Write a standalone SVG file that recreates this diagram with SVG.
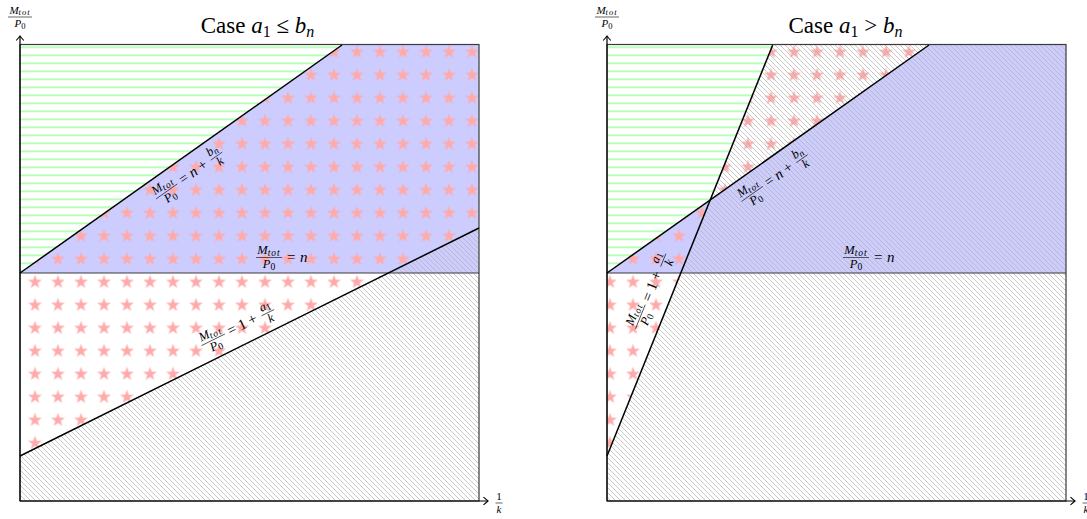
<svg xmlns="http://www.w3.org/2000/svg" width="1087" height="519" viewBox="0 0 1087 519">
<style>
.m{font-family:"Liberation Serif",serif;font-style:italic;font-size:12.5px;fill:#000}
.s{font-size:9.5px;letter-spacing:1px}
.s0{font-size:9.5px;font-style:normal}
.r{font-family:"Liberation Serif",serif;font-size:15px;fill:#000}
.ri{font-family:"Liberation Serif",serif;font-size:15px;font-style:italic;fill:#000}
.bar{stroke:#000;stroke-width:0.6}
.t{font-family:"Liberation Serif",serif;font-size:23px;fill:#000}
.it{font-style:italic}
.ts{font-size:16px}
.ln{stroke:#000;stroke-width:1.5;fill:none}
.nl{stroke:#3a3a3a;stroke-width:1;fill:none}
.box{stroke:#3a3a3a;stroke-width:1.2;fill:none}
.ax{stroke:#000;stroke-width:1.2;fill:none}
</style>
<defs>
<pattern id="grn" patternUnits="userSpaceOnUse" x="0" y="43.3" width="10" height="8">
<line x1="0" y1="4" x2="10" y2="4" stroke="#80ff80" stroke-width="1.1"/>
</pattern>
<pattern id="hatch" patternUnits="userSpaceOnUse" x="0" y="0" width="5" height="5">
<path d="M-1,-1 L6,6 M-1,4 L1,6 M4,-1 L6,1" stroke="#b0b0b0" stroke-width="0.7"/>
</pattern>
<pattern id="stars" patternUnits="userSpaceOnUse" x="23.5" y="40.5" width="23" height="23">
<path transform="translate(11.5,11.5) scale(1.12)" d="M0,-6.5 L1.53,-2.1 L6.18,-2.01 L2.47,0.8 L3.82,5.26 L0,2.6 L-3.82,5.26 L-2.47,0.8 L-6.18,-2.01 L-1.53,-2.1 Z" fill="#ffaaaa"/>
</pattern>
<marker id="arr" markerUnits="userSpaceOnUse" markerWidth="12" markerHeight="12" viewBox="-6 -6 12 12" refX="0" refY="0" orient="auto">
<path d="M-4.5,-3.8 Q-1.2,-0.9 0,0 Q-1.2,0.9 -4.5,3.8" stroke="#000" stroke-width="1.1" fill="none"/>
</marker>
</defs>
<rect width="1087" height="519" fill="#fff"/>

<g id="left-plot">
<g id="left-regions">
<polygon points="20,273 342,45 20,45" fill="url(#grn)"/>
<polygon points="20,273 342,45 479,45 479,273" fill="#ccccff"/>
<polygon points="20,273 342,45 479,45 479,228 20,456" fill="url(#stars)"/>
<polygon points="20,456 479,228 479,501 20,501" fill="url(#hatch)"/>
</g>
<g id="left-connectors">
<line class="nl" x1="20" y1="273" x2="479" y2="273"/>
<rect class="box" x="20" y="44.5" width="459" height="456.5"/>
<line class="ln" x1="20" y1="273" x2="342" y2="45"/>
<line class="ln" x1="20" y1="456" x2="479" y2="228"/>
<line class="ax" x1="20" y1="501" x2="20" y2="36" marker-end="url(#arr)"/>
<line class="ax" x1="20" y1="501" x2="488" y2="501" marker-end="url(#arr)"/>
</g>
<g id="left-title">
<text class="t" x="257.5" y="33" text-anchor="middle">Case <tspan class="it">a</tspan><tspan class="ts" dy="4">1</tspan><tspan dy="-4"> ≤ </tspan><tspan class="it">b</tspan><tspan class="ts it" dy="4">n</tspan></text>
</g>
<g id="left-yaxis-label">
<text class="m" x="20" y="13.5" text-anchor="middle" style="font-size:11px">M<tspan class="s" dy="1.8" style="font-size:8.5px">tot</tspan></text>
<line class="bar" x1="8" y1="17" x2="32" y2="17"/>
<text class="m" x="20" y="26.6" text-anchor="middle" style="font-size:11px">P<tspan class="s0" dy="2" style="font-size:8.5px">0</tspan></text>
</g>
<g id="left-xaxis-label">
<text class="m" x="499" y="500" text-anchor="middle" style="font-style:normal;font-size:11px">1</text>
<line class="bar" x1="495.5" y1="503" x2="502.5" y2="503"/>
<text class="m" x="499" y="513" text-anchor="middle" style="font-size:11px">k</text>
</g>
<g id="left-label-bn" transform="translate(192,173.5) rotate(-35.3)">
<text class="m" x="-31" y="-3.5" text-anchor="middle">M<tspan class="s" dy="1.8">tot</tspan></text>
<line class="bar" x1="-44" y1="0" x2="-18" y2="0"/>
<text class="m" x="-31" y="10.2" text-anchor="middle">P<tspan class="s0" dy="2">0</tspan></text>
<text class="r" x="-14" y="4">=</text>
<text class="ri" x="-2" y="4">n</text>
<text class="r" x="9" y="4">+</text>
<text class="m" x="30" y="-3.5" text-anchor="middle">b<tspan class="s" dy="1.8">n</tspan></text>
<line class="bar" x1="23" y1="0" x2="37" y2="0"/>
<text class="m" x="30" y="10.2" text-anchor="middle">k</text>
</g>
<g id="left-label-n">
<text class="m" x="269" y="254" text-anchor="middle">M<tspan class="s" dy="1.8">tot</tspan></text>
<line class="bar" x1="256" y1="257.5" x2="282" y2="257.5"/>
<text class="m" x="269" y="267.7" text-anchor="middle">P<tspan class="s0" dy="2">0</tspan></text>
<text class="r" x="287" y="261.5">=</text>
<text class="ri" x="300" y="261.5">n</text>
</g>
<g id="left-label-a1" transform="translate(241,326) rotate(-26.4)">
<text class="m" x="-31" y="-3.5" text-anchor="middle">M<tspan class="s" dy="1.8">tot</tspan></text>
<line class="bar" x1="-44" y1="0" x2="-18" y2="0"/>
<text class="m" x="-31" y="10.2" text-anchor="middle">P<tspan class="s0" dy="2">0</tspan></text>
<text class="r" x="-14" y="4">=</text>
<text class="r" x="-2" y="4">1</text>
<text class="r" x="9" y="4">+</text>
<text class="m" x="30" y="-3.5" text-anchor="middle">a<tspan class="s0" dy="1.8">1</tspan></text>
<line class="bar" x1="23" y1="0" x2="37" y2="0"/>
<text class="m" x="30" y="10.2" text-anchor="middle">k</text>
</g>
</g>

<g id="right-plot">
<g id="right-regions">
<polygon points="607,273 710.3,199.9 772.7,45 607,45" fill="url(#grn)"/>
<polygon points="607,273 929,45 1066,45 1066,273" fill="#ccccff"/>
<polygon points="607,273 710.3,199.9 607,456" fill="url(#stars)"/>
<polygon points="710.3,199.9 772.7,45 929,45" fill="url(#stars)"/>
<polygon points="607,456 772.7,45 1066,45 1066,501 607,501" fill="url(#hatch)"/>
</g>
<g id="right-connectors">
<line class="nl" x1="607" y1="273" x2="1066" y2="273"/>
<rect class="box" x="607" y="44.5" width="459" height="456.5"/>
<line class="ln" x1="607" y1="273" x2="929" y2="45"/>
<line class="ln" x1="607" y1="456" x2="772.7" y2="45"/>
<line class="ax" x1="607" y1="501" x2="607" y2="36" marker-end="url(#arr)"/>
<line class="ax" x1="607" y1="501" x2="1075" y2="501" marker-end="url(#arr)"/>
</g>
<g id="right-title">
<text class="t" x="845.5" y="33" text-anchor="middle">Case <tspan class="it">a</tspan><tspan class="ts" dy="4">1</tspan><tspan dy="-4"> &gt; </tspan><tspan class="it">b</tspan><tspan class="ts it" dy="4">n</tspan></text>
</g>
<g id="right-yaxis-label">
<text class="m" x="607" y="13.5" text-anchor="middle" style="font-size:11px">M<tspan class="s" dy="1.8" style="font-size:8.5px">tot</tspan></text>
<line class="bar" x1="595" y1="17" x2="619" y2="17"/>
<text class="m" x="607" y="26.6" text-anchor="middle" style="font-size:11px">P<tspan class="s0" dy="2" style="font-size:8.5px">0</tspan></text>
</g>
<g id="right-xaxis-label">
<text class="m" x="1086" y="500" text-anchor="middle" style="font-style:normal;font-size:11px">1</text>
<line class="bar" x1="1082.5" y1="503" x2="1089.5" y2="503"/>
<text class="m" x="1086" y="513" text-anchor="middle" style="font-size:11px">k</text>
</g>
<g id="right-label-bn" transform="translate(777.5,176) rotate(-35.3)">
<text class="m" x="-31" y="-3.5" text-anchor="middle">M<tspan class="s" dy="1.8">tot</tspan></text>
<line class="bar" x1="-44" y1="0" x2="-18" y2="0"/>
<text class="m" x="-31" y="10.2" text-anchor="middle">P<tspan class="s0" dy="2">0</tspan></text>
<text class="r" x="-14" y="4">=</text>
<text class="ri" x="-2" y="4">n</text>
<text class="r" x="9" y="4">+</text>
<text class="m" x="30" y="-3.5" text-anchor="middle">b<tspan class="s" dy="1.8">n</tspan></text>
<line class="bar" x1="23" y1="0" x2="37" y2="0"/>
<text class="m" x="30" y="10.2" text-anchor="middle">k</text>
</g>
<g id="right-label-n">
<text class="m" x="856" y="254" text-anchor="middle">M<tspan class="s" dy="1.8">tot</tspan></text>
<line class="bar" x1="843" y1="257.5" x2="869" y2="257.5"/>
<text class="m" x="856" y="267.7" text-anchor="middle">P<tspan class="s0" dy="2">0</tspan></text>
<text class="r" x="874" y="261.5">=</text>
<text class="ri" x="887" y="261.5">n</text>
</g>
<g id="right-label-a1" transform="translate(652,288) rotate(-68)">
<text class="m" x="-31" y="-3.5" text-anchor="middle">M<tspan class="s" dy="1.8">tot</tspan></text>
<line class="bar" x1="-44" y1="0" x2="-18" y2="0"/>
<text class="m" x="-31" y="10.2" text-anchor="middle">P<tspan class="s0" dy="2">0</tspan></text>
<text class="r" x="-14" y="4">=</text>
<text class="r" x="-2" y="4">1</text>
<text class="r" x="9" y="4">+</text>
<text class="m" x="30" y="-3.5" text-anchor="middle">a<tspan class="s0" dy="1.8">1</tspan></text>
<line class="bar" x1="23" y1="0" x2="37" y2="0"/>
<text class="m" x="30" y="10.2" text-anchor="middle">k</text>
</g>
</g>
</svg>
